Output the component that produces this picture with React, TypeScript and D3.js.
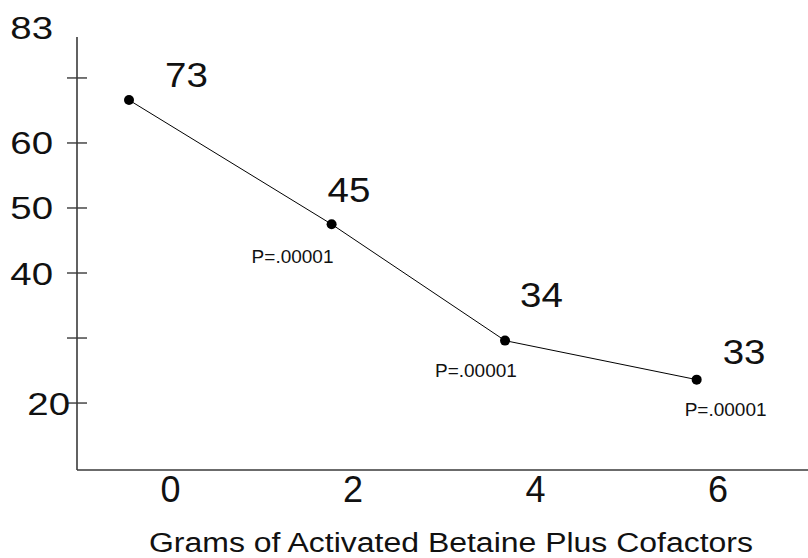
import React from "react";
import * as d3 from "d3";

// ---- data ----
const doseGrams = [-0.41, 1.81, 3.71, 5.81]; // plotted x positions (grams)
const plottedValues = [66.6, 47.5, 29.6, 23.6]; // plotted y positions
const valueLabels = ["73", "45", "34", "33"];
const pLabels = ["", "P=.00001", "P=.00001", "P=.00001"];
const xTicks = [0, 2, 4, 6];
const yTicks = [20, 30, 40, 50, 60, 70];
const yTickLabels = ["20", "", "40", "50", "60", ""];
const yTopLabel = "83";
const xTitle = "Grams of Activated Betaine Plus Cofactors";

// ---- layout (offsets of annotations relative to their points) ----
const valueLabelOffsets = [
  [36, -13],
  [-4, -22],
  [15, -34],
  [26, -16],
];
const pLabelOffsets = [
  [0, 0],
  [-80, 39],
  [-70, 36],
  [-12, 36],
];

const W = 808;
const H = 558;
const FONT = "'Liberation Sans', Arial, Helvetica, sans-serif";

export default function App() {
  const x = d3.scaleLinear().domain([-0.98, 7.03]).range([77, 808]);
  const y = d3.scaleLinear().domain([9.7, 76.3]).range([470, 37]);

  const pts = doseGrams.map((g, i) => [x(g), y(plottedValues[i])] as [number, number]);
  const line = d3.line<[number, number]>()(pts) || "";

  const axisColor = "#3a3a3a";

  return (
    <svg
      width={W}
      height={H}
      style={{ position: "absolute", left: 0, top: 0, background: "#fff" }}
      fontFamily={FONT}
    >
      <rect x={0} y={0} width={W} height={H} fill="#fff" />
      {/* y axis */}
      <line x1={x(-0.98)} x2={x(-0.98)} y1={y(76.3)} y2={y(9.7)} stroke={axisColor} strokeWidth={1.6} />
      {yTicks.map((t, i) => (
        <g key={t}>
          <line x1={67} x2={87} y1={y(t)} y2={y(t)} stroke={axisColor} strokeWidth={1.4} />
          {yTickLabels[i] && (
            <text
              transform={`translate(${t === 20 ? 70 : 53},${y(t) + 11.5}) scale(1.2,1)`}
              textAnchor="end"
              fontSize={32}
              fill="#111"
            >
              {yTickLabels[i]}
            </text>
          )}
        </g>
      ))}
      <text transform={`translate(53,39) scale(1.2,1)`} textAnchor="end" fontSize={32} fill="#111">
        {yTopLabel}
      </text>
      {/* x axis */}
      <line x1={x(-0.98)} x2={x(7.03)} y1={y(9.7)} y2={y(9.7)} stroke={axisColor} strokeWidth={1.6} />
      {xTicks.map((t) => (
        <text key={t} x={x(t) + 4} y={502} textAnchor="middle" fontSize={36} fill="#111">
          {t}
        </text>
      ))}
      <text
        x={149}
        y={552}
        fontSize={27}
        textLength={604}
        lengthAdjust="spacingAndGlyphs"
        fill="#111"
      >
        {xTitle}
      </text>
      {/* data line */}
      <path d={line} fill="none" stroke="#000" strokeWidth={1} />
      {pts.map(([px, py], i) => (
        <g key={i}>
          <circle cx={px} cy={py} r={5} fill="#000" />
          <text
            transform={`translate(${px + valueLabelOffsets[i][0]},${py + valueLabelOffsets[i][1]}) scale(1.1,1)`}
            fontSize={35}
            fill="#111"
          >
            {valueLabels[i]}
          </text>
          {pLabels[i] && (
            <text
              x={px + pLabelOffsets[i][0]}
              y={py + pLabelOffsets[i][1]}
              fontSize={19}
              fill="#111"
            >
              {pLabels[i]}
            </text>
          )}
        </g>
      ))}
    </svg>
  );
}
